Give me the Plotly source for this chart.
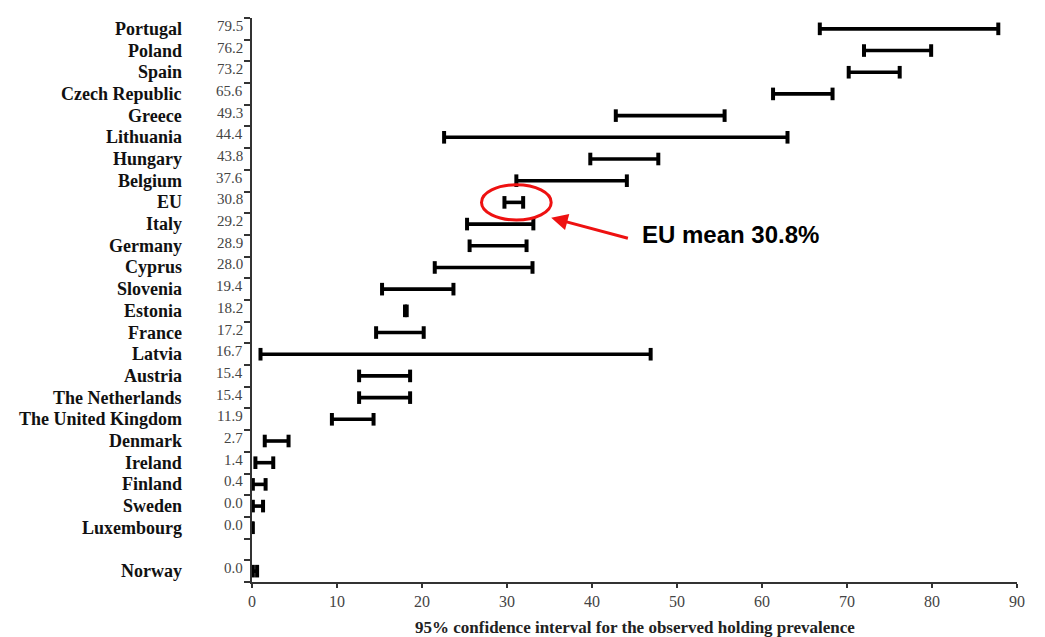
import plotly.graph_objects as go

countries = ["Portugal", "Poland", "Spain", "Czech Republic", "Greece", "Lithuania",
             "Hungary", "Belgium", "EU", "Italy", "Germany", "Cyprus", "Slovenia",
             "Estonia", "France", "Latvia", "Austria", "The Netherlands",
             "The United Kingdom", "Denmark", "Ireland", "Finland", "Sweden",
             "Luxembourg", "Norway"]
prevalence = [79.5, 76.2, 73.2, 65.6, 49.3, 44.4, 43.8, 37.6, 30.8, 29.2, 28.9, 28.0,
              19.4, 18.2, 17.2, 16.7, 15.4, 15.4, 11.9, 2.7, 1.4, 0.4, 0.0, 0.0, 0.0]
ci_low = [66.8, 72.0, 70.2, 61.3, 42.8, 22.6, 39.8, 31.1, 29.7, 25.3, 25.6, 21.5,
          15.3, 18.0, 14.6, 1.0, 12.6, 12.6, 9.4, 1.5, 0.4, 0.1, 0.1, 0.0, 0.1]
ci_high = [87.8, 79.9, 76.2, 68.3, 55.6, 63.0, 47.8, 44.1, 31.9, 33.1, 32.3, 33.0,
           23.7, 18.2, 20.2, 46.9, 18.6, 18.6, 14.3, 4.3, 2.5, 1.6, 1.3, 0.1, 0.6]
x_ticks = [0, 10, 20, 30, 40, 50, 60, 70, 80, 90]
x_title = "95% confidence interval for the observed holding prevalence"
gap_after = "Luxembourg"

# row positions (top to bottom), with one blank slot after Luxembourg
n_slots = len(countries) + 1
ypos = []
slot = n_slots - 1
for c in countries:
    ypos.append(slot)
    slot -= 1
    if c == gap_after:
        slot -= 1

xs, ys = [], []
for lo, hi, y in zip(ci_low, ci_high, ypos):
    xs += [lo, hi, None]
    ys += [y, y, None]

fig = go.Figure()
fig.add_trace(go.Scatter(
    x=xs, y=ys, mode="lines+markers",
    line=dict(color="black", width=3.6),
    marker=dict(symbol="line-ns", size=9, color="black",
                line=dict(color="black", width=4)),
    hoverinfo="skip", showlegend=False,
))

annotations = []
for c, v, y in zip(countries, prevalence, ypos):
    annotations.append(dict(
        text="<b>" + c + "</b>", xref="paper", x=0, yref="y", y=y,
        xanchor="right", yanchor="middle",
        xshift=-68, showarrow=False,
        font=dict(family="Liberation Serif", size=18, color="#111111"),
    ))
    annotations.append(dict(
        text=f"{v:.1f}", xref="paper", x=0, yref="y", y=y, xanchor="right",
        yanchor="middle", xshift=-7, yshift=3, showarrow=False,
        font=dict(family="Liberation Serif", size=15, color="#444444"),
    ))

# x-axis title
annotations.append(dict(
    text="<b>" + x_title + "</b>", xref="paper", x=0.5, yref="paper", y=0,
    xanchor="center", yanchor="middle", yshift=-45, showarrow=False,
    font=dict(family="Liberation Serif", size=17, color="#222222"),
))

eu_y = ypos[countries.index("EU")]
# arrow
annotations.append(dict(
    x=35.2, y=eu_y - 0.71, xref="x", yref="y",
    ax=44.4, ay=eu_y - 1.67, axref="x", ayref="y",
    text="", showarrow=True, arrowhead=2, arrowsize=1.1, arrowwidth=3,
    arrowcolor="#ee1111",
))
annotations.append(dict(
    x=45.7, y=eu_y - 1.5, xref="x", yref="y", xanchor="left", yanchor="middle",
    text="<b>EU mean 30.8%</b>", showarrow=False,
    font=dict(family="Liberation Sans", size=24, color="black"),
))

fig.add_shape(type="circle", xref="x", yref="y",
              x0=27.0, x1=35.2, y0=eu_y - 0.81, y1=eu_y + 0.81,
              line=dict(color="#ee1111", width=3))

fig.update_layout(
    width=1045, height=637,
    margin=dict(l=252, r=28, t=18, b=55, autoexpand=False),
    plot_bgcolor="white", paper_bgcolor="white",
    annotations=annotations,
    xaxis=dict(
        range=[0, 90], tickvals=x_ticks, ticktext=[str(t) for t in x_ticks],
        showgrid=False, zeroline=False, showline=True, linecolor="#333333",
        linewidth=2, ticks="outside", ticklen=4, tickwidth=1.5, tickcolor="#333333",
        tickfont=dict(family="Liberation Serif", size=16, color="#444444"),
        automargin=False,
    ),
    yaxis=dict(
        range=[-0.5, n_slots - 0.5],
        tickvals=[k - 0.5 for k in range(n_slots + 1)],
        showticklabels=False, showgrid=False, zeroline=False,
        showline=True, linecolor="#333333", linewidth=2,
        ticks="outside", ticklen=6, tickwidth=1.5, tickcolor="#333333",
        automargin=False,
    ),
)

fig.write_html("out.html")
